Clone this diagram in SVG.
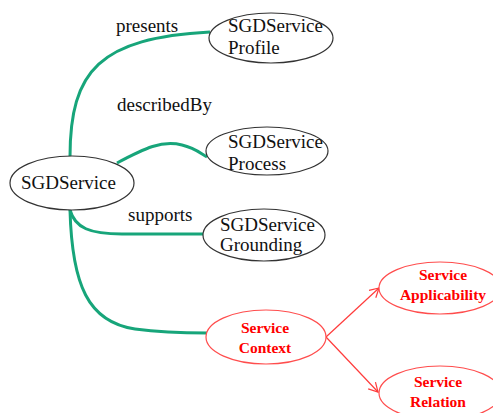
<svg xmlns="http://www.w3.org/2000/svg" width="493" height="413" viewBox="0 0 493 413">
<defs>
<style>
.n{fill:#fff;stroke:#333;stroke-width:1.2}
.r{fill:#fff;stroke:#ff4d4d;stroke-width:1.2}
.t{font-family:"Liberation Serif",serif;font-size:19px;fill:#111}
.rt{font-family:"Liberation Serif",serif;font-size:15.5px;font-weight:bold;fill:#ff0000;text-anchor:middle}
.g{fill:none;stroke:#17a57a;stroke-width:3}
.a{fill:none;stroke:#ff3b3b;stroke-width:1.2}
</style>
<marker id="ah" markerWidth="12" markerHeight="12" refX="10" refY="6" orient="auto" markerUnits="userSpaceOnUse">
<polyline points="1,1 10,6 1,11" fill="none" stroke="#ff3b3b" stroke-width="1.2"/>
</marker>
</defs>
<rect width="493" height="413" fill="#fff"/>
<g id="connectors">
<path class="g" d="M70,157 C70,70 100,38 210,32"/>
<path class="g" d="M117,163 C145,148 162,140 182,145 C195,148 200,153 207,157"/>
<path class="g" d="M70,210 C75,228 90,234 122,234 L203,234"/>
<path class="g" d="M70,210 C72,285 88,322 135,329 C165,333 185,333 207,333"/>
<line class="a" x1="326" y1="337" x2="379" y2="288" marker-end="url(#ah)"/>
<line class="a" x1="326" y1="337" x2="378" y2="392" marker-end="url(#ah)"/>
<text class="t" x="116" y="32">presents</text>
<text class="t" x="117" y="111">describedBy</text>
<text class="t" x="128" y="221">supports</text>
</g>
<g id="SGDService">
<ellipse class="n" cx="72" cy="183" rx="62" ry="27"/>
<text class="t" x="21" y="189">SGDService</text>
</g>
<g id="SGDServiceProfile">
<ellipse class="n" cx="271" cy="38" rx="62" ry="25"/>
<text class="t" x="228" y="32">SGDService</text>
<text class="t" x="228" y="54">Profile</text>
</g>
<g id="SGDServiceProcess">
<ellipse class="n" cx="267" cy="151" rx="61" ry="24"/>
<text class="t" x="228" y="148">SGDService</text>
<text class="t" x="228" y="170">Process</text>
</g>
<g id="SGDServiceGrounding">
<ellipse class="n" cx="264" cy="235" rx="61" ry="26"/>
<text class="t" x="220" y="231">SGDService</text>
<text class="t" x="220" y="251">Grounding</text>
</g>
<g id="ServiceContext">
<ellipse class="r" cx="266" cy="337" rx="60" ry="27"/>
<text class="rt" x="265" y="333">Service</text>
<text class="rt" x="265" y="353">Context</text>
</g>
<g id="ServiceApplicability">
<ellipse class="r" cx="440" cy="288" rx="61" ry="26"/>
<text class="rt" x="443" y="280">Service</text>
<text class="rt" x="443" y="300">Applicability</text>
</g>
<g id="ServiceRelation">
<ellipse class="r" cx="440" cy="393" rx="61" ry="27"/>
<text class="rt" x="438" y="387">Service</text>
<text class="rt" x="438" y="407">Relation</text>
</g>
</svg>
